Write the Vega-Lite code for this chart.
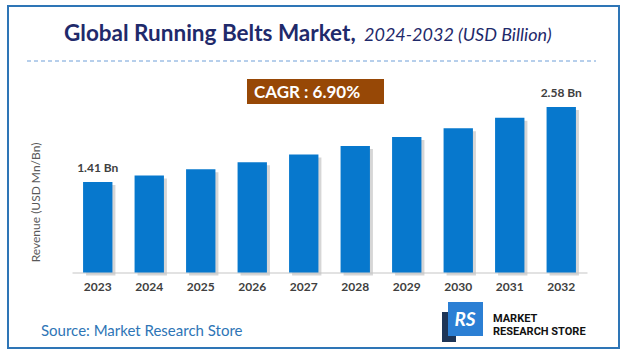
{
  "$schema": "https://vega.github.io/schema/vega-lite/v6.json",
  "width": 515,
  "height": 192.5,
  "autosize": "none",
  "padding": {"left": 72, "top": 80, "right": 35, "bottom": 86.5},
  "background": "white",
  "config": {"view": {"stroke": null}, "font": "Lato"},
  "data": {
    "values": [
      {"year": "2023", "value": 1.41, "label": "1.41 Bn"},
      {"year": "2024", "value": 1.51, "label": ""},
      {"year": "2025", "value": 1.61, "label": ""},
      {"year": "2026", "value": 1.72, "label": ""},
      {"year": "2027", "value": 1.84, "label": ""},
      {"year": "2028", "value": 1.97, "label": ""},
      {"year": "2029", "value": 2.11, "label": ""},
      {"year": "2030", "value": 2.25, "label": ""},
      {"year": "2031", "value": 2.41, "label": ""},
      {"year": "2032", "value": 2.58, "label": "2.58 Bn"}
    ]
  },
  "layer": [
    {
      "data": {"values": [{"part": "border"}]},
      "mark": {"type": "rect", "fillOpacity": 0, "stroke": "#2e75b6", "strokeWidth": 2},
      "encoding": {"x": {"value": -64}, "x2": {"value": 547}, "y": {"value": -74}, "y2": {"value": 268}}
    },
    {
      "data": {"values": [{"t": "Global Running Belts Market,"}]},
      "mark": {"type": "text", "align": "left", "baseline": "alphabetic", "fontSize": 22.5, "fontWeight": "bold", "color": "#1f2a6b"},
      "encoding": {"x": {"value": -8}, "y": {"value": -39}, "text": {"field": "t"}}
    },
    {
      "data": {"values": [{"t": "2024-2032 (USD Billion)"}]},
      "mark": {"type": "text", "align": "left", "baseline": "alphabetic", "fontSize": 18, "fontStyle": "italic", "color": "#1f2a6b"},
      "encoding": {"x": {"value": 292}, "y": {"value": -39}, "text": {"field": "t"}}
    },
    {
      "data": {"values": [{"part": "sep"}]},
      "mark": {"type": "rule", "stroke": "#6f9fd8", "strokeWidth": 1, "strokeDash": [4, 3]},
      "encoding": {"x": {"value": -45}, "x2": {"value": 524}, "y": {"value": -19}}
    },
    {
      "data": {"values": [{"part": "cagr"}]},
      "mark": {"type": "rect", "fill": "#974806"},
      "encoding": {"x": {"value": 175}, "x2": {"value": 312}, "y": {"value": -1}, "y2": {"value": 24}}
    },
    {
      "data": {"values": [{"t": "CAGR :  6.90%"}]},
      "mark": {"type": "text", "align": "left", "baseline": "middle", "fontSize": 17, "fontWeight": "bold", "color": "white"},
      "encoding": {"x": {"value": 182}, "y": {"value": 12.5}, "text": {"field": "t"}}
    },
    {
      "data": {"values": [{"t": "Source: Market Research Store"}]},
      "mark": {"type": "text", "align": "left", "baseline": "middle", "fontSize": 15, "color": "#2e75b6"},
      "encoding": {"x": {"value": -31}, "y": {"value": 251}, "text": {"field": "t"}}
    },
    {
      "data": {"values": [{"part": "logo"}]},
      "mark": {"type": "rect", "fill": "#1d3557"},
      "encoding": {"x": {"value": 370}, "x2": {"value": 384}, "y": {"value": 232}, "y2": {"value": 262}}
    },
    {
      "data": {"values": [{"part": "logo"}]},
      "mark": {"type": "rect", "fill": "#2b7fd4"},
      "encoding": {"x": {"value": 376}, "x2": {"value": 411}, "y": {"value": 222}, "y2": {"value": 256}}
    },
    {
      "data": {"values": [{"t": "RS"}]},
      "mark": {"type": "text", "align": "center", "baseline": "middle", "fontSize": 19, "fontWeight": "bold", "fontStyle": "italic", "color": "white"},
      "encoding": {"x": {"value": 393}, "y": {"value": 240}, "text": {"field": "t"}}
    },
    {
      "data": {"values": [{"t": "MARKET", "row": 0}, {"t": "RESEARCH STORE", "row": 1}]},
      "mark": {"type": "text", "align": "left", "baseline": "middle", "fontSize": 11, "fontWeight": "bold", "font": "Roboto", "color": "#111111"},
      "encoding": {"x": {"value": 421}, "y": {"value": 238.5}, "yOffset": {"field": "row", "type": "quantitative", "scale": {"domain": [0, 1], "range": [0, 13]}}, "text": {"field": "t"}}
    },
    {
      "encoding": {
        "x": {
          "field": "year", "type": "ordinal",
          "scale": {"paddingInner": 0.43, "paddingOuter": 0.215},
          "axis": {"title": null, "labelAngle": 0, "labelFontWeight": "bold", "labelFontSize": 12, "labelColor": "#404040", "labelPadding": 9, "ticks": false, "domainColor": "#d9d9d9", "domainWidth": 1.5}
        },
        "y": {
          "field": "value", "type": "quantitative",
          "scale": {"domain": [0, 3]},
          "axis": {"title": "Revenue (USD Mn/Bn)", "labels": false, "ticks": false, "domain": false, "grid": false, "titleX": -37, "titleY": 122, "titleBaseline": "middle", "titleFontWeight": "normal", "titleFontSize": 12, "titleColor": "#595959"}
        }
      },
      "layer": [
        {"mark": {"type": "bar", "color": "#c4c4c4", "opacity": 0.7, "xOffset": 3, "yOffset": 3}},
        {"mark": {"type": "bar", "color": "#0778cd"}},
        {
          "mark": {"type": "text", "baseline": "bottom", "dy": -7, "fontSize": 12, "fontWeight": "bold", "color": "#404040"},
          "encoding": {"text": {"field": "label"}}
        }
      ]
    }
  ]
}
